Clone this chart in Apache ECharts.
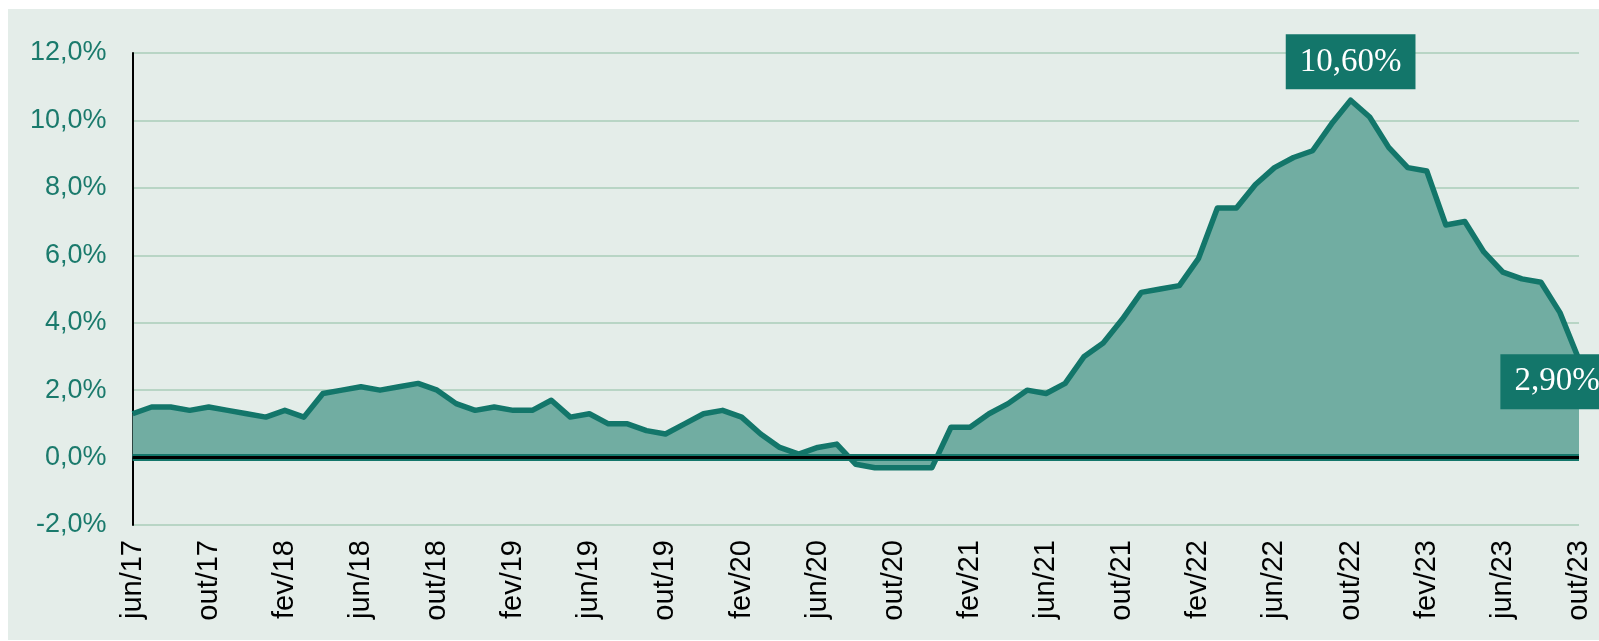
<!DOCTYPE html>
<html>
<head>
<meta charset="utf-8">
<script src="https://cdn.jsdelivr.net/npm/echarts@6/dist/echarts.min.js"></script>
<style>
  html, body { margin: 0; padding: 0; background: #fff; }
  #main { width: 1599px; height: 641px; }
</style>
</head>
<body>
<div id="main"></div>
<script>
// meses (jun/17 a out/23)
var categorias = [
  'jun/17','jul/17','ago/17','set/17','out/17','nov/17','dez/17',
  'jan/18','fev/18','mar/18','abr/18','mai/18','jun/18','jul/18','ago/18','set/18','out/18','nov/18','dez/18',
  'jan/19','fev/19','mar/19','abr/19','mai/19','jun/19','jul/19','ago/19','set/19','out/19','nov/19','dez/19',
  'jan/20','fev/20','mar/20','abr/20','mai/20','jun/20','jul/20','ago/20','set/20','out/20','nov/20','dez/20',
  'jan/21','fev/21','mar/21','abr/21','mai/21','jun/21','jul/21','ago/21','set/21','out/21','nov/21','dez/21',
  'jan/22','fev/22','mar/22','abr/22','mai/22','jun/22','jul/22','ago/22','set/22','out/22','nov/22','dez/22',
  'jan/23','fev/23','mar/23','abr/23','mai/23','jun/23','jul/23','ago/23','set/23','out/23'
];
// % acumulado em 12 meses
var valores = [
  1.3, 1.5, 1.5, 1.4, 1.5, 1.4, 1.3,
  1.2, 1.4, 1.2, 1.9, 2.0, 2.1, 2.0, 2.1, 2.2, 2.0, 1.6, 1.4,
  1.5, 1.4, 1.4, 1.7, 1.2, 1.3, 1.0, 1.0, 0.8, 0.7, 1.0, 1.3,
  1.4, 1.2, 0.7, 0.3, 0.1, 0.3, 0.4, -0.2, -0.3, -0.3, -0.3, -0.3,
  0.9, 0.9, 1.3, 1.6, 2.0, 1.9, 2.2, 3.0, 3.4, 4.1, 4.9, 5.0,
  5.1, 5.9, 7.4, 7.4, 8.1, 8.6, 8.9, 9.1, 9.9, 10.6, 10.1, 9.2,
  8.6, 8.5, 6.9, 7.0, 6.1, 5.5, 5.3, 5.2, 4.3, 2.9
];
// pontos destacados
var destaques = ['out/22', 'out/23'];

var verde = '#13766A';
var fmtPct = function (v) { return v.toFixed(2).replace('.', ',') + '%'; };

var myChart = echarts.init(document.getElementById('main'));

var caixa = {
  show: true,
  color: '#fff',
  backgroundColor: verde,
  fontFamily: 'Liberation Serif',
  fontSize: 33,
  lineHeight: 38,
  padding: [9, 14, 8, 14],
  formatter: function (p) { return fmtPct(p.value); }
};

var pontos = destaques.map(function (c, i) {
  var v = valores[categorias.indexOf(c)];
  var lbl = i == 0
    ? Object.assign({}, caixa, { position: 'top', distance: 11 })
    : Object.assign({}, caixa, { position: 'inside', offset: [-22, 22] });
  return { coord: [c, v], value: v, label: lbl };
});

var option = {
  backgroundColor: '#fff',
  animation: false,
  graphic: [{
    type: 'rect', z: -10, silent: true,
    shape: { x: 8, y: 9, width: 1591, height: 631 },
    style: { fill: '#E4EDE9' }
  }],
  grid: {
    left: 132.6,
    right: 20,
    top: 53,
    bottom: 116,
    containLabel: false,
    outerBoundsMode: 'none'
  },
  xAxis: {
    type: 'category',
    data: categorias,
    boundaryGap: false,
    axisLine: { show: false, onZero: false },
    axisTick: { show: false },
    splitLine: { show: false },
    axisLabel: {
      interval: 3,
      rotate: 90,
      margin: 15,
      color: '#000',
      fontFamily: 'Liberation Sans',
      fontSize: 29
    }
  },
  yAxis: {
    type: 'value',
    min: -2,
    max: 12,
    interval: 2,
    axisLine: { show: true, lineStyle: { color: '#000', width: 2 } },
    axisTick: { show: false },
    splitLine: { show: true, lineStyle: { color: '#AACDB9', width: 1.5 } },
    axisLabel: {
      margin: 26,
      color: '#1A7A6C',
      fontFamily: 'Liberation Sans',
      fontSize: 27,
      formatter: function (v) { return v.toFixed(1).replace('.', ',') + '%'; }
    }
  },
  series: [{
    type: 'line',
    data: valores,
    showSymbol: false,
    symbol: 'none',
    lineStyle: { color: verde, width: 5.5, join: 'round' },
    areaStyle: { color: '#71ADA2', opacity: 1 },
    markLine: {
      silent: true,
      symbol: 'none',
      label: { show: false },
      data: [
        { yAxis: 0, lineStyle: { color: verde, width: 7, type: 'solid' } },
        { yAxis: 0, lineStyle: { color: '#000', width: 3, type: 'solid' } }
      ]
    },
    markPoint: {
      symbol: 'circle',
      symbolSize: 0,
      silent: true,
      data: pontos
    }
  }]
};

myChart.setOption(option);
</script>
</body>
</html>
